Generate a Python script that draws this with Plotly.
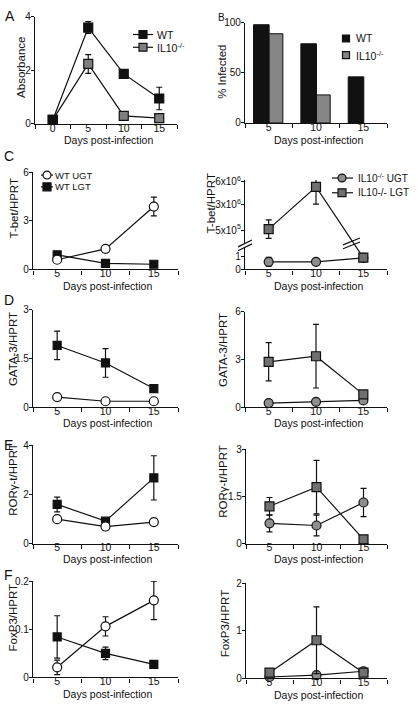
import numpy as np
import plotly.graph_objects as go

# ---------------- data ----------------
A_days = [0, 5, 10, 15]
A_wt = [0.15, 3.6, 1.87, 0.95]
A_wt_err = [0, 0.22, 0.05, 0.42]
A_il10 = [0.15, 2.24, 0.3, 0.22]
A_il10_err = [0, 0.35, 0.03, 0.03]

days = [5, 10, 15]
B_wt = [98, 79, 46]
B_il10 = [89, 28, None]

C_wt_ugt = [0.6, 1.27, 3.88]
C_wt_ugt_err = [0.05, 0.1, 0.58]
C_wt_lgt = [0.9, 0.38, 0.32]
C_wt_lgt_err = [0.05, 0.05, 0.05]
C_ko_ugt = [0.6, 0.6, 0.9]
C_ko_ugt_err = [0.35, 0.05, 0.05]
C_ko_lgt = [6e5, 5.35e6, 0.92]
C_ko_lgt_err = [9e5, 2.3e6, 0.05]

D_wt_ugt = [0.31, 0.18, 0.18]
D_wt_lgt = [1.9, 1.36, 0.57]
D_wt_lgt_err = [0.44, 0.44, 0.03]
D_ko_ugt = [0.25, 0.33, 0.42]
D_ko_lgt = [2.85, 3.2, 0.8]
D_ko_lgt_err = [1.2, 2.0, 0.05]

E_wt_ugt = [1.0, 0.7, 0.88]
E_wt_lgt = [1.6, 0.92, 2.68]
E_wt_lgt_err = [0.3, 0.05, 0.9]
E_ko_ugt = [0.65, 0.58, 1.31]
E_ko_ugt_err = [0.27, 0.33, 0.45]
E_ko_lgt = [1.19, 1.8, 0.14]
E_ko_lgt_err = [0.28, 0.85, 0.05]

F_wt_ugt = [0.021, 0.106, 0.16]
F_wt_ugt_err = [0.015, 0.02, 0.04]
F_wt_lgt = [0.084, 0.05, 0.027]
F_wt_lgt_err = [0.044, 0.013, 0.003]
F_ko_ugt = [0.03, 0.07, 0.15]
F_ko_lgt = [0.12, 0.8, 0.12]
F_ko_lgt_err = [0.02, 0.7, 0.02]

CR_tick_vals = [0, 1, 5e5, 3e6, 6e6]
CR_tick_text = ["0", "1", "5x10<sup>5</sup>", "3x10<sup>6</sup>", "6x10<sup>6</sup>"]

# ---------------- helpers ----------------
W, H = 418, 708
FONT = "Liberation Sans, Arial, sans-serif"


def px(x):
    return x / W


def py(y):
    return 1 - y / H


# broken axis scale for panel C right: lower segment linear (0..~1.5),
# upper segment piecewise linear through the labelled ticks
UP_V = [5e5, 3e6, 6e6]
UP_D = [40 / 13, 66 / 13, 89 / 13]


def up_lin(v):
    if v <= UP_V[1]:
        return UP_D[0] + (v - UP_V[0]) * (UP_D[1] - UP_D[0]) / (UP_V[1] - UP_V[0])
    return UP_D[1] + (v - UP_V[1]) * (UP_D[2] - UP_D[1]) / (UP_V[2] - UP_V[1])


def brk(v, upper=None):
    if upper is None:
        upper = v >= 1000
    return up_lin(v) if upper else v


panels = {
    "A": dict(n=1, x=(35, 177), y=(120, 11), xr=[-2.5, 17.5], yr=[0, 4], yt=[0, 2, 4], xt=[0, 5, 10, 15]),
    "B": dict(n=2, x=(245, 387), y=(119, 17), xr=[2.5, 17.5], yr=[0, 100], yt=[0, 50, 100], xt=days),
    "CL": dict(n=3, x=(33, 178), y=(268, 169), xr=[2.5, 17.5], yr=[0, 6], yt=[0, 3, 6], xt=days),
    "CR": dict(n=4, x=(245, 387), y=(268, 177), xr=[2.5, 17.5], yr=[0, 7.0], yt=None, xt=days),
    "DL": dict(n=5, x=(33, 178), y=(408, 309), xr=[2.5, 17.5], yr=[0, 3], yt=[0, 1.5, 3], xt=days),
    "DR": dict(n=6, x=(245, 387), y=(408, 311), xr=[2.5, 17.5], yr=[0, 6], yt=[0, 3, 6], xt=days),
    "EL": dict(n=7, x=(33, 178), y=(547, 447), xr=[2.5, 17.5], yr=[0, 4], yt=[0, 2, 4], xt=days),
    "ER": dict(n=8, x=(246, 387), y=(547, 451), xr=[2.5, 17.5], yr=[0, 3], yt=[0, 1.5, 3], xt=days),
    "FL": dict(n=9, x=(33, 178), y=(683, 585), xr=[2.5, 17.5], yr=[0, 0.2], yt=[0, 0.1, 0.2], xt=days),
    "FR": dict(n=10, x=(246, 387), y=(684, 587), xr=[2.5, 17.5], yr=[0, 2], yt=[0, 1, 2], xt=days),
}


def axid(name):
    n = panels[name]["n"]
    return ("x" if n == 1 else f"x{n}"), ("y" if n == 1 else f"y{n}")


fig = go.Figure()

BLACK = "#111111"
GREY_A = "#7f7f7f"
GREY_SQ = "#707070"
GREY_CI = "#8e8e8e"
GREY_BAR = "#858585"


def series(name, xv, yv, err=None, errm=None, symbol="square", fill=BLACK, size=8):
    xa, ya = axid(name)
    ey = None
    if err is not None:
        ey = dict(type="data", array=err, arrayminus=errm if errm is not None else err,
                  visible=True, color=BLACK, thickness=1.2, width=3)
    fig.add_trace(go.Scatter(
        x=xv, y=yv, mode="lines+markers", error_y=ey,
        line=dict(color=BLACK, width=1.2),
        marker=dict(symbol=symbol, size=size, color=fill, line=dict(color=BLACK, width=1.2)),
        xaxis=xa, yaxis=ya, cliponaxis=False, showlegend=False))


# A
series("A", A_days, A_il10, A_il10_err, fill=GREY_A, size=9)
series("A", A_days, A_wt, A_wt_err, fill=BLACK, size=9)

# B
xa, ya = axid("B")
fig.add_trace(go.Bar(x=days, y=B_wt, width=1.65, offset=-1.6, marker=dict(color=BLACK, line=dict(color=BLACK, width=1)),
                     xaxis=xa, yaxis=ya, showlegend=False))
fig.add_trace(go.Bar(x=days, y=B_il10, width=1.45, offset=0.05, marker=dict(color=GREY_BAR, line=dict(color=BLACK, width=1)),
                     xaxis=xa, yaxis=ya, showlegend=False))

# C left
series("CL", days, C_wt_lgt, C_wt_lgt_err, symbol="square", fill=BLACK, size=8)
series("CL", days, C_wt_ugt, C_wt_ugt_err, symbol="circle", fill="white", size=9)


# C right (broken axis)
def broken(vals, errs):
    mid, plus, minus = [], [], []
    for v, e in zip(vals, errs):
        up = v >= 1000
        m = brk(v, up)
        mid.append(m)
        plus.append(brk(v + e, up) - m)
        minus.append(m - brk(v - e, up))
    return mid, plus, minus


m, p_, mi = broken(C_ko_ugt, C_ko_ugt_err)
series("CR", days, m, p_, mi, symbol="circle", fill=GREY_CI, size=9)
m, p_, mi = broken(C_ko_lgt, C_ko_lgt_err)
series("CR", days, m, p_, mi, symbol="square", fill=GREY_SQ, size=9)

# D
series("DL", days, D_wt_lgt, D_wt_lgt_err, symbol="square", fill=BLACK, size=8)
series("DL", days, D_wt_ugt, symbol="circle", fill="white", size=9)
series("DR", days, D_ko_ugt, symbol="circle", fill=GREY_CI, size=9)
series("DR", days, D_ko_lgt, D_ko_lgt_err, symbol="square", fill=GREY_SQ, size=9)

# E
series("EL", days, E_wt_lgt, E_wt_lgt_err, symbol="square", fill=BLACK, size=8)
series("EL", days, E_wt_ugt, symbol="circle", fill="white", size=9)
series("ER", days, E_ko_ugt, E_ko_ugt_err, symbol="circle", fill=GREY_CI, size=9)
series("ER", days, E_ko_lgt, E_ko_lgt_err, symbol="square", fill=GREY_SQ, size=9)

# F
series("FL", days, F_wt_lgt, F_wt_lgt_err, symbol="square", fill=BLACK, size=8)
series("FL", days, F_wt_ugt, F_wt_ugt_err, symbol="circle", fill="white", size=9)
series("FR", days, F_ko_ugt, symbol="circle", fill=GREY_CI, size=9)
series("FR", days, F_ko_lgt, F_ko_lgt_err, symbol="square", fill=GREY_SQ, size=9)

# ---------------- axes ----------------
layout = {}
for name, p in panels.items():
    n = p["n"]
    xk = "xaxis" if n == 1 else f"xaxis{n}"
    yk = "yaxis" if n == 1 else f"yaxis{n}"
    xa, ya = axid(name)
    layout[xk] = dict(
        domain=[px(p["x"][0]), px(p["x"][1])], range=p["xr"], anchor=ya,
        showline=True, linecolor=BLACK, linewidth=1.3, showgrid=False, zeroline=False,
        tickmode="array", tickvals=p["xt"], ticktext=[str(v) for v in p["xt"]], ticks="",
        tickfont=dict(size=10.5, color=BLACK, family=FONT), ticklabelstandoff=-6,
        minor=dict(tickmode="linear", tick0=2.5, dtick=5, ticks="outside", ticklen=4,
                   tickwidth=1.2, tickcolor=BLACK, showgrid=False),
        fixedrange=True)
    if p["yt"] is not None:
        tv = p["yt"]
        tt = [("%g" % v) for v in tv]
    else:
        tv = [brk(v) for v in CR_tick_vals]
        tt = CR_tick_text
    layout[yk] = dict(
        domain=[py(p["y"][0]), py(p["y"][1])], range=p["yr"], anchor=xa,
        showline=True, linecolor=BLACK, linewidth=1.3, showgrid=False, zeroline=False,
        tickmode="array", tickvals=tv, ticktext=tt, ticks="outside", ticklen=3,
        tickwidth=1.2, tickcolor=BLACK, tickfont=dict(size=10, color=BLACK, family=FONT),
        ticklabelstandoff=-2, fixedrange=True)

ann = []


def text(x, y, s, size=10.5, angle=0, xanchor="center"):
    ann.append(dict(x=px(x), y=py(y), xref="paper", yref="paper", text=s, showarrow=False,
                    textangle=angle, xanchor=xanchor, yanchor="middle",
                    font=dict(size=size, color=BLACK, family=FONT)))


# x titles
for name, yy in [("A", 136), ("B", 136), ("CL", 285), ("CR", 285), ("DL", 424), ("DR", 424),
                 ("EL", 563), ("ER", 563), ("FL", 700), ("FR", 701)]:
    x0, x1 = panels[name]["x"]
    text((x0 + x1) / 2 + 2, yy, "Days post-infection", size=10.5)

# y titles
for s, xx, yy in [("Absorbance", 21, 63), ("% Infected", 222, 67), ("T-bet/HPRT", 14, 206),
                  ("T-bet/HPRT", 211, 201), ("GATA-3/HPRT", 13, 349), ("GATA-3/HPRT", 223, 350),
                  ("RORγ-t/HPRT", 13, 482), ("RORγ-t/HPRT", 223, 483), ("FoxP3/HPRT", 13, 622),
                  ("FoxP3/HPRT", 225, 628)]:
    text(xx, yy, s, size=11.5, angle=-90)

# panel letters
for s, xx, yy, sz in [("A", 3, 10, 14), ("B", 216, 12, 10), ("C", 2, 153, 14), ("D", 2, 299, 14),
                      ("E", 2, 447, 14), ("F", 2, 579, 14)]:
    text(xx, yy, s, size=sz, xanchor="left")

# significance star
ann.append(dict(x=10, y=brk(C_ko_lgt[1] + C_ko_lgt_err[1]), xref="x4", yref="y4", text="*",
                showarrow=False, yanchor="bottom", yshift=0, font=dict(size=10, color=BLACK, family=FONT)))

# ---------------- legends (drawn as shapes + text) ----------------
shapes = []


def leg_line(x0, x1, y):
    shapes.append(dict(type="line", xref="paper", yref="paper", x0=px(x0), x1=px(x1), y0=py(y), y1=py(y),
                       line=dict(color=BLACK, width=1.2)))


def leg_sq(cx, cy, s, fill):
    shapes.append(dict(type="rect", xref="paper", yref="paper", x0=px(cx - s / 2), x1=px(cx + s / 2),
                       y0=py(cy + s / 2), y1=py(cy - s / 2), fillcolor=fill, line=dict(color=BLACK, width=1.2)))


def leg_ci(cx, cy, s, fill):
    shapes.append(dict(type="circle", xref="paper", yref="paper", x0=px(cx - s / 2), x1=px(cx + s / 2),
                       y0=py(cy + s / 2), y1=py(cy - s / 2), fillcolor=fill, line=dict(color=BLACK, width=1.2)))


# A legend
leg_line(133, 153, 29); leg_sq(143, 29, 8, BLACK); text(155, 29, "WT", 10.5, xanchor="left")
leg_line(133, 153, 42); leg_sq(143, 42, 8, GREY_A); text(155, 42, "IL10<sup>-/-</sup>", 10.5, xanchor="left")
# B legend
leg_sq(346, 33, 7, BLACK); text(354, 33, "WT", 10.5, xanchor="left")
leg_sq(346, 50, 7, GREY_BAR); text(354, 50, "IL10<sup>-/-</sup>", 10.5, xanchor="left")
# C left legend
leg_line(41, 53, 172); leg_ci(47, 172, 8, "white"); text(53, 172, "WT UGT", 9.5, xanchor="left")
leg_line(41, 53, 184); leg_sq(47, 184, 8, BLACK); text(53, 184, "WT LGT", 9.5, xanchor="left")
# C right legend
leg_line(332, 353, 175); leg_ci(342, 175, 8, GREY_CI); text(356, 175, "IL10<sup>-/-</sup> UGT", 10, xanchor="left")
leg_line(332, 353, 190); leg_sq(342, 190, 8, GREY_SQ); text(356, 190, "IL10-/- LGT", 10, xanchor="left")

# break marks on C right (y axis and LGT line)
shapes.append(dict(type="line", xref="paper", yref="paper", x0=px(245), x1=px(245), y0=py(241), y1=py(245),
                   line=dict(color="white", width=3)))
for dy in (0, 4):
    shapes.append(dict(type="line", xref="paper", yref="paper", x0=px(238), x1=px(252),
                       y0=py(245 + dy), y1=py(238 + dy), line=dict(color=BLACK, width=1.2)))
for dy in (0, 4):
    shapes.append(dict(type="line", xref="paper", yref="paper", x0=px(343), x1=px(360),
                       y0=py(243 + dy), y1=py(236 + dy), line=dict(color=BLACK, width=1.2)))

fig.update_layout(
    width=W, height=H, margin=dict(l=0, r=0, t=0, b=0),
    paper_bgcolor="white", plot_bgcolor="white",
    font=dict(family=FONT, color=BLACK),
    annotations=ann, shapes=shapes, showlegend=False, barmode="overlay",
    **layout)

fig.write_html("out.html", config={"displayModeBar": False},
               post_script="document.body.style.margin='0';document.body.style.overflow='hidden';")
